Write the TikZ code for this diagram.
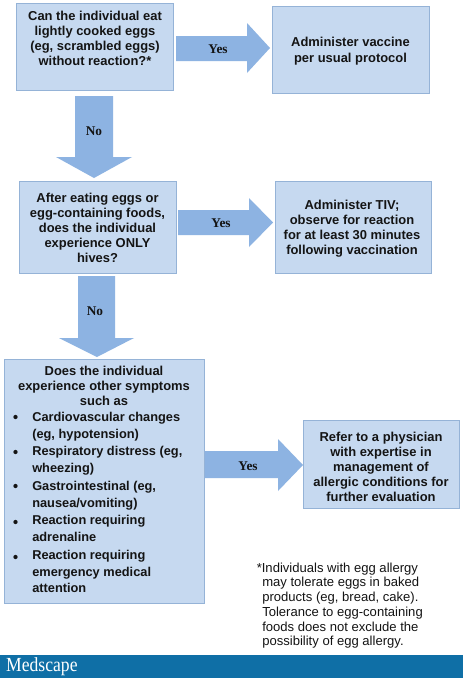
\documentclass[tikz,border=0pt]{standalone}
\usepackage{fontspec}
\setmainfont{Liberation Sans}
\newfontfamily\serifface{Liberation Serif}
\definecolor{boxfill}{HTML}{C6D9F0}
\definecolor{boxline}{HTML}{95B3D7}
\definecolor{arrowfill}{HTML}{8DB3E2}
\definecolor{bandblue}{HTML}{0F6FA6}
\definecolor{inktext}{HTML}{141414}
\tikzset{
  flowbox/.style={draw=boxline,fill=boxfill,line width=0.75pt},
  boxtext/.style={font=\fontsize{9.7}{11.2}\selectfont\bfseries,text=inktext,align=center,inner sep=0pt},
  listtext/.style={font=\fontsize{9.6}{12.4}\selectfont\bfseries,text=inktext,align=left,inner sep=0pt,anchor=north west},
  bullet/.style={circle,fill=inktext,minimum size=3.2pt,inner sep=0pt},
  blockarrow/.style={fill=arrowfill,draw=none},
  arrowlabel/.style={font=\serifface\fontsize{10}{11}\selectfont\bfseries,text=inktext,inner sep=0pt},
  footnote/.style={font=\fontsize{9.8}{11.1}\selectfont,text=inktext,align=left,inner sep=0pt,anchor=north west}
}
\begin{document}
\begin{tikzpicture}[x=0.75pt,y=-0.75pt]
\useasboundingbox (0,0) rectangle (463,678);
\fill[white] (0,0) rectangle (463,678);
% boxes
\draw[flowbox] (16.5,3.5) rectangle (173.5,90.5);
\draw[flowbox] (272.5,6.5) rectangle (429.5,93.5);
\draw[flowbox] (19.5,181.5) rectangle (176.5,273.5);
\draw[flowbox] (275.5,181.5) rectangle (431.5,273.5);
\draw[flowbox] (4.5,359.5) rectangle (204.5,603.5);
\draw[flowbox] (303.5,420.5) rectangle (459.5,508.5);
% arrows
\fill[blockarrow] (176,36) -- (247,36) -- (247,23) -- (270,48) -- (247,73) -- (247,61) -- (176,61) -- cycle;
\fill[blockarrow] (75,96) -- (113,96) -- (113,157) -- (132,157) -- (94,178) -- (56,157) -- (75,157) -- cycle;
\fill[blockarrow] (178,210) -- (249,210) -- (249,198) -- (273,222.5) -- (249,247) -- (249,235) -- (178,235) -- cycle;
\fill[blockarrow] (78,276) -- (115,276) -- (115,338) -- (134,338) -- (97,357) -- (59,338) -- (78,338) -- cycle;
\fill[blockarrow] (205,451) -- (278,451) -- (278,439) -- (303,465) -- (278,491) -- (278,478) -- (205,478) -- cycle;
% box text
\node[boxtext] (t1) at (95,38.5) {Can the individual eat\\lightly cooked eggs\\(eg, scrambled eggs)\\without reaction?*};
\node[boxtext,font=\fontsize{9.7}{12.2}\selectfont\bfseries] (t2) at (350.5,51.5) {Administer vaccine\\per usual protocol};
\node[boxtext] (t3) at (97.5,228) {After eating eggs or\\egg-containing foods,\\does the individual\\experience ONLY\\hives?};
\node[boxtext] (t4) at (352,228.5) {Administer TIV;\\observe for reaction\\for at least 30 minutes\\following vaccination};
\node[boxtext] (t5) at (104,386) {Does the individual\\experience other symptoms\\such as};
\node[boxtext] (t6) at (381,467) {Refer to a physician\\with expertise in\\management of\\allergic conditions for\\further evaluation};
% list
\node[listtext] (l1) at (32,412) {Cardiovascular changes\\(eg, hypotension)};
\node[listtext] (l2) at (32,446) {Respiratory distress (eg,\\wheezing)};
\node[listtext] (l3) at (32,481) {Gastrointestinal (eg,\\nausea/vomiting)};
\node[listtext] (l4) at (32,515) {Reaction requiring\\adrenaline};
\node[listtext] (l5) at (32,550) {Reaction requiring\\emergency medical\\attention};
\node[bullet] (b1) at (15.5,417) {};
\node[bullet] (b2) at (15.5,452) {};
\node[bullet] (b3) at (15.5,486) {};
\node[bullet] (b4) at (15.5,522) {};
\node[bullet] (b5) at (15.5,557) {};
% arrow labels
\node[arrowlabel] (y1) at (218,49) {Yes};
\node[arrowlabel] (n1) at (94,131) {No};
\node[arrowlabel] (y2) at (221,223) {Yes};
\node[arrowlabel] (n2) at (95,311) {No};
\node[arrowlabel] (y3) at (248,466) {Yes};
% footnote
\node[footnote] (fn1) at (256.5,562.5) {*Individuals with egg allergy};
\node[footnote] (fn2) at (262,577) {may tolerate eggs in baked\\products (eg, bread, cake).\\Tolerance to egg-containing\\foods does not exclude the\\possibility of egg allergy.};
% band
\fill[bandblue] (0,655) rectangle (463,678);
\node[font=\serifface\fontsize{15}{16}\selectfont,text=white,inner sep=0pt,anchor=west,xscale=0.88] (logo) at (6,666.5) {Medscape};
\end{tikzpicture}
\end{document}
